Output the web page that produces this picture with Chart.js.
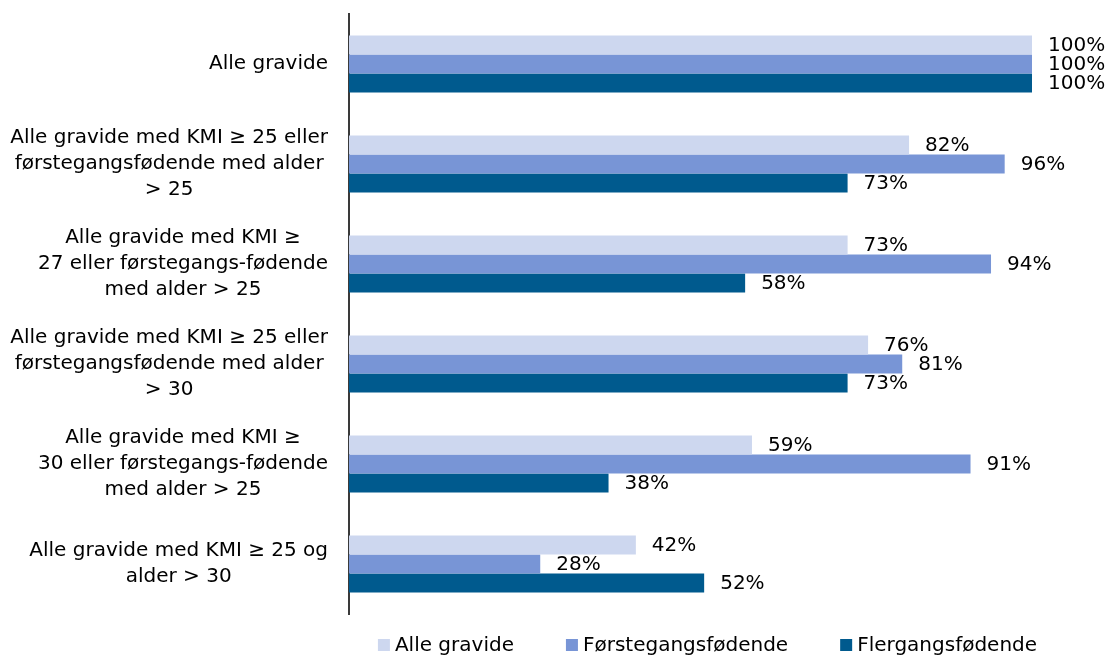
<!DOCTYPE html>
<html>
<head>
    <title>Gravide - andel</title>
    <script src="https://cdn.jsdelivr.net/npm/chart.js"></script>
    <style>
        body { margin: 0; background: #fff; }
        #wrap { width: 1110px; height: 655px; position: relative; }
    </style>
</head>
<body>
    <div id="wrap">
        <canvas id="chart"></canvas>
    </div>

    <script>
        // Data
        const categories = [
            'Alle gravide',
            ['Alle gravide med KMI \u2265 25 eller', 'førstegangsfødende med alder', '> 25'],
            ['Alle gravide med KMI \u2265', '27 eller førstegangs-fødende', 'med alder > 25'],
            ['Alle gravide med KMI \u2265 25 eller', 'førstegangsfødende med alder', '> 30'],
            ['Alle gravide med KMI \u2265', '30 eller førstegangs-fødende', 'med alder > 25'],
            ['Alle gravide med KMI \u2265 25 og', 'alder > 30']
        ];
        const seriesNames = ['Alle gravide', 'Førstegangsfødende', 'Flergangsfødende'];
        const alleGravide = [100, 82, 73, 76, 59, 42];
        const forstegang = [100, 96, 94, 81, 91, 28];
        const flergang = [100, 73, 58, 73, 38, 52];
        const seriesColors = ['#cdd7ef', '#7895d6', '#005a8e'];

        const FONT = '20px "DejaVu Sans", sans-serif';

        // values at the end of each bar
        const valueLabels = {
            id: 'valueLabels',
            afterDatasetsDraw(chart) {
                const ctx = chart.ctx;
                ctx.save();
                ctx.font = FONT;
                ctx.fillStyle = '#000';
                ctx.textAlign = 'left';
                ctx.textBaseline = 'middle';
                chart.data.datasets.forEach((ds, i) => {
                    chart.getDatasetMeta(i).data.forEach((bar, j) => {
                        ctx.fillText(ds.data[j] + '%', bar.x + 16, bar.y + 1);
                    });
                });
                ctx.restore();
            }
        };

        // category labels: each block centred on itself, right aligned against the axis
        const categoryLabels = {
            id: 'categoryLabels',
            afterDraw(chart) {
                const ctx = chart.ctx;
                const scale = chart.scales.y;
                const right = chart.chartArea.left - 21;
                const lh = 26;
                ctx.save();
                ctx.font = FONT;
                ctx.fillStyle = '#000';
                ctx.textAlign = 'center';
                ctx.textBaseline = 'middle';
                chart.data.labels.forEach((lab, i) => {
                    const lines = Array.isArray(lab) ? lab : [lab];
                    const w = Math.max(...lines.map(l => ctx.measureText(l).width));
                    const cx = right - w / 2;
                    const cy = scale.getPixelForValue(i);
                    lines.forEach((l, k) => {
                        ctx.fillText(l, cx, cy + (k - (lines.length - 1) / 2) * lh);
                    });
                });
                ctx.restore();
            }
        };

        // legend under the plot
        const bottomLegend = {
            id: 'bottomLegend',
            afterDraw(chart) {
                const ctx = chart.ctx;
                const box = 12, gapText = 5, gapItem = 52;
                ctx.save();
                ctx.font = FONT;
                ctx.textBaseline = 'middle';
                ctx.textAlign = 'left';
                const items = chart.data.datasets.map(ds => ({
                    text: ds.label, color: ds.backgroundColor,
                    w: box + gapText + ctx.measureText(ds.label).width
                }));
                const total = items.reduce((s, it) => s + it.w, 0) + gapItem * (items.length - 1);
                const area = chart.chartArea;
                let x = (area.left + area.right) / 2 + 17 - total / 2;
                const y = 645;
                items.forEach(it => {
                    ctx.fillStyle = it.color;
                    ctx.fillRect(x, y - box / 2, box, box);
                    ctx.fillStyle = '#000';
                    ctx.fillText(it.text, x + box + gapText, y + 1);
                    x += it.w + gapItem;
                });
                ctx.restore();
            }
        };

        const ctx = document.getElementById('chart').getContext('2d');
        const chart = new Chart(ctx, {
            type: 'bar',
            data: {
                labels: categories,
                datasets: [
                    { label: seriesNames[0], data: alleGravide, backgroundColor: seriesColors[0] },
                    { label: seriesNames[1], data: forstegang, backgroundColor: seriesColors[1] },
                    { label: seriesNames[2], data: flergang, backgroundColor: seriesColors[2] }
                ]
            },
            options: {
                indexAxis: 'y',
                responsive: true,
                maintainAspectRatio: false,
                animation: false,
                layout: { padding: { top: 14, right: 78, bottom: 41, left: 0 } },
                datasets: {
                    bar: { categoryPercentage: 0.57, barPercentage: 1.0 }
                },
                scales: {
                    x: { display: false, min: 0, max: 100 },
                    y: {
                        grid: { display: false },
                        border: { display: true, color: '#3a3a3a', width: 2 },
                        ticks: { display: false },
                        afterFit(scale) { scale.width = 349; }
                    }
                },
                plugins: {
                    legend: { display: false },
                    tooltip: { enabled: false }
                }
            },
            plugins: [valueLabels, categoryLabels, bottomLegend]
        });
    </script>
</body>
</html>
